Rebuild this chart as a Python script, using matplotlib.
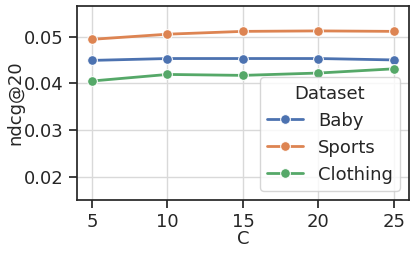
import numpy as np
import pandas as pd
import matplotlib
matplotlib.use('Agg')
import matplotlib.pyplot as plt
import seaborn as sns

C = [5, 10, 15, 20, 25]
baby = [0.0449, 0.0453, 0.0453, 0.0453, 0.0450]
sports = [0.0494, 0.0505, 0.0511, 0.0512, 0.0511]
clothing = [0.0405, 0.0419, 0.0417, 0.0422, 0.0431]

df = pd.DataFrame({
    'C': C * 3,
    'ndcg@20': baby + sports + clothing,
    'Dataset': ['Baby'] * 5 + ['Sports'] * 5 + ['Clothing'] * 5,
})

sns.set_theme(style='ticks', palette='deep')
plt.rcParams['font.family'] = ['DejaVu Sans']
plt.rcParams['font.size'] = 13

fig, ax = plt.subplots(figsize=(4.16, 2.54), dpi=100)
sns.lineplot(data=df, x='C', y='ndcg@20', hue='Dataset', marker='o',
             markersize=7, linewidth=2, ax=ax)
ax.grid(True, color='#d9d9d9', linewidth=1)
ax.set_ylim(0.0151, 0.0565)
ax.set_xticks(C)
ax.set_yticks([0.02, 0.03, 0.04, 0.05])
ax.tick_params(labelsize=13)
ax.set_xlabel('C', fontsize=13, labelpad=-1)
ax.set_ylabel('ndcg@20', fontsize=13, labelpad=0)
leg = ax.legend(title='Dataset', fontsize=13, title_fontsize=13, loc='lower right')
fig.subplots_adjust(left=0.185, right=0.983, top=0.976, bottom=0.213)
fig.savefig('out.png')
